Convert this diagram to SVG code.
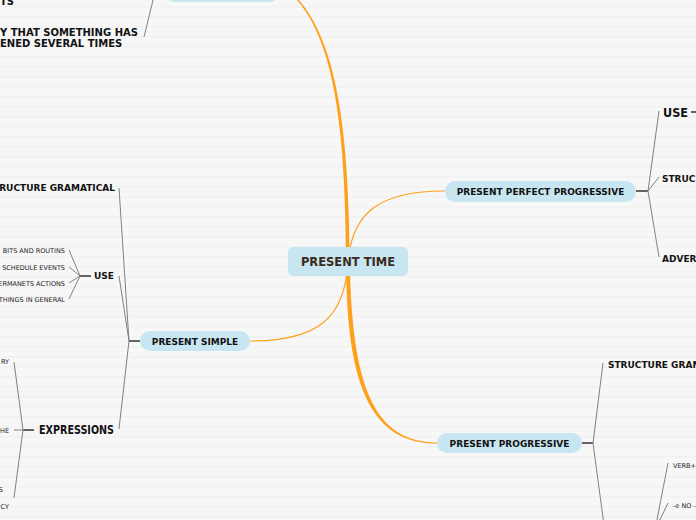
<svg xmlns="http://www.w3.org/2000/svg" width="696" height="520" viewBox="0 0 696 520">
<defs>
<pattern id="stripes" width="10" height="10" patternUnits="userSpaceOnUse">
<rect width="10" height="10" fill="#f7f7f7"/>
<rect y="6" width="10" height="1.5" fill="#f1f1f1"/>
</pattern>
<style>
.pill{fill:#c8e6f2;}
.nt{font-family:"DejaVu Sans","Verdana",sans-serif;font-weight:bold;font-size:9px;fill:#111;text-anchor:middle;}
.b9{font-family:"DejaVu Sans","Verdana",sans-serif;font-weight:bold;font-size:9px;fill:#111;}
.b10{font-family:"DejaVu Sans","Verdana",sans-serif;font-weight:bold;font-size:10px;fill:#111;}
.sm{font-family:"DejaVu Sans","Verdana",sans-serif;font-size:6.5px;fill:#222;}
.con{fill:none;stroke:#808080;stroke-width:1;}
.stub{fill:none;stroke:#333;stroke-width:1.5;}
.or{fill:none;stroke:#ffa01a;stroke-linecap:round;}
.orf{fill:#ffa01a;stroke:none;}
</style>
</defs>
<rect width="696" height="520" fill="url(#stripes)"/>

<g id="connectors">
<path class="orf" d="M349.8,262 C348.8,150 341,44.5 296.5,-2.5 L295.5,-1.5 C339,45.5 345.2,150 346.2,262 Z"/>
<path class="orf" d="M349.8,262 C351.8,384 373,442.4 437,442.4 L437,443.6 C371,443.6 346.2,386 346.2,262 Z"/>
<path class="or" stroke-width="1.2" d="M348,262 C352,212 380,191 445,191"/>
<path class="or" stroke-width="1.2" d="M348,262 C345,318 318,341 250,341"/>
<path class="stub" d="M636,191 H648"/>
<path class="con" d="M648,191 L659,111 M648,191 L659,177 M648,191 L659,257"/>
<path class="stub" d="M691,112 H696"/>
<path class="stub" d="M582,443 H593"/>
<path class="con" d="M593,443 L603,363 M593,443 L606,540"/>
<path class="con" d="M668,463 L655,530 M668,503 L655,530"/>
<path class="stub" d="M140,341 H129"/>
<path class="con" d="M129,341 L119,188 M129,341 L119,276 M129,341 L119,429"/>
<path class="stub" d="M91,276 H80"/>
<path class="con" d="M80,276 L69,250 M80,276 L69,267 M80,276 L69,283 M80,276 L69,299"/>
<path class="stub" d="M34,430 H23"/>
<path class="con" d="M23,430 L14,362 M23,430 L14,430 M23,430 L14,498"/>
<path class="con" d="M153,0 L144,37"/>
</g>

<g id="n-top">
<rect class="pill" x="165" y="-18" width="115" height="20" rx="10"/>
<text class="b10" x="0" y="5">TS</text>
<text class="b10" x="0" y="36">Y THAT SOMETHING HAS</text>
<text class="b10" x="0" y="47">ENED SEVERAL TIMES</text>
</g>

<g id="n-center">
<rect x="288" y="247" width="120" height="29" rx="5" fill="#c8e6f2"/>
<text x="348" y="266" font-family="DejaVu Sans, Verdana, sans-serif" font-weight="bold" font-size="11.5" fill="#3a2a1a" text-anchor="middle">PRESENT TIME</text>
</g>

<g id="n-ppp">
<rect class="pill" x="445" y="181" width="191" height="21" rx="10.5"/>
<text class="nt" x="540.5" y="194.5">PRESENT PERFECT PROGRESSIVE</text>
</g>
<g id="n-ppp-use">
<text class="b9" x="663" y="116.5" style="font-size:13px" textLength="25" lengthAdjust="spacingAndGlyphs">USE</text>
</g>
<g id="n-ppp-struc"><text class="b9" x="662" y="181.5">STRUC</text></g>
<g id="n-ppp-adver"><text class="b9" x="662" y="261.5">ADVER</text></g>

<g id="n-pp">
<rect class="pill" x="437" y="433" width="145" height="20" rx="10"/>
<text class="nt" x="509.5" y="446.5">PRESENT PROGRESSIVE</text>
</g>
<g id="n-pp-struc"><text class="b9" x="608" y="367.5">STRUCTURE GRAM</text></g>
<g id="n-pp-verb"><text class="sm" x="673" y="467.5">VERB+I</text></g>
<g id="n-pp-e"><text class="sm" x="673" y="507.5">-e NO -</text></g>

<g id="n-ps">
<rect class="pill" x="140" y="331" width="110" height="20" rx="10"/>
<text class="nt" x="195" y="344.5">PRESENT SIMPLE</text>
</g>
<g id="n-ps-struct"><text class="b9" x="115" y="191" text-anchor="end">RUCTURE GRAMATICAL</text></g>
<g id="n-ps-use"><text class="b9" x="114" y="279" text-anchor="end">USE</text></g>
<g id="n-use-1"><text class="sm" x="65" y="253" text-anchor="end">BITS AND ROUTINS</text></g>
<g id="n-use-2"><text class="sm" x="65" y="270" text-anchor="end">SCHEDULE EVENTS</text></g>
<g id="n-use-3"><text class="sm" x="65" y="286" text-anchor="end">ERMANETS ACTIONS</text></g>
<g id="n-use-4"><text class="sm" x="65" y="302" text-anchor="end">THINGS IN GENERAL</text></g>
<g id="n-ps-expr"><text class="b9" x="39" y="434" style="font-size:11.5px" textLength="75" lengthAdjust="spacingAndGlyphs">EXPRESSIONS</text></g>
<g id="n-expr-1"><text class="sm" x="9" y="364" text-anchor="end">RY</text></g>
<g id="n-expr-2"><text class="sm" x="9" y="432.5" text-anchor="end">HE</text></g>
<g id="n-expr-3"><text class="sm" x="3" y="492" text-anchor="end">S</text><text class="sm" x="9" y="509" text-anchor="end">CY</text></g>
</svg>
